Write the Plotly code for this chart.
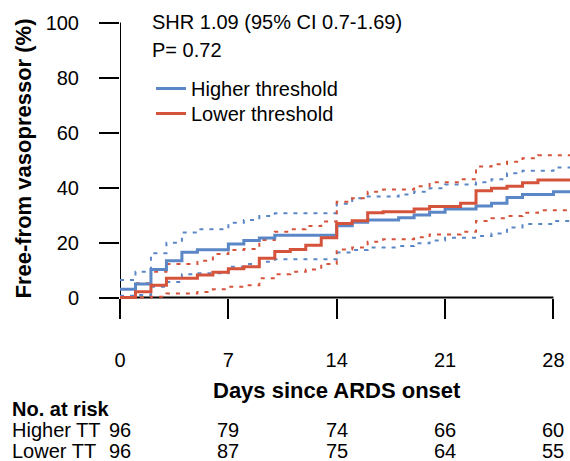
import plotly.graph_objects as go

# ---- data ----
days_hi = [0, 1, 2, 3, 4, 5, 7, 8, 9, 10, 14, 15, 16, 18, 19, 20, 21, 23, 24, 25, 26, 28, 29.1]
hi_est = [3.0, 4.9, 10.2, 13.4, 16.5, 17.4, 19.5, 20.7, 21.6, 22.6, 26.1, 27.4, 28.2, 29.0, 30.0, 31.0, 32.2, 33.3, 34.3, 36.4, 37.5, 38.5, 38.5]
hi_upper = [6.4, 9.4, 16.1, 19.9, 23.6, 24.8, 27.2, 28.2, 29.6, 30.6, 34.1, 36.1, 36.7, 37.5, 38.5, 39.7, 41.1, 41.9, 43.0, 45.2, 46.1, 47.3, 47.3]
hi_lower = [0.6, 0.9, 3.9, 5.6, 8.5, 8.8, 11.2, 12.2, 13.0, 13.9, 16.4, 17.3, 18.2, 18.7, 19.7, 20.7, 21.7, 22.4, 23.3, 25.5, 26.7, 27.8, 27.8]

days_lo = [0, 1, 2, 3, 5, 6, 7, 8, 9, 10, 11, 12, 13, 14, 15, 16, 17, 19, 20, 22, 23, 24, 25, 26, 27, 29.1]
lo_est = [0.0, 2.1, 4.5, 7.0, 8.2, 9.2, 10.5, 11.2, 14.3, 16.7, 17.5, 19.0, 21.7, 26.9, 27.9, 30.8, 31.2, 32.2, 33.1, 34.3, 38.8, 39.7, 40.5, 41.7, 42.7, 42.7]
lo_upper = [0.0, 5.2, 9.4, 12.2, 13.4, 15.8, 17.3, 17.6, 20.9, 23.9, 24.8, 26.0, 27.6, 34.8, 36.1, 38.5, 39.3, 40.5, 41.9, 43.0, 47.6, 48.5, 49.4, 50.6, 51.7, 51.7]
lo_lower = [0.0, 0.0, 0.3, 1.5, 2.0, 3.0, 3.9, 4.5, 7.0, 8.5, 9.4, 10.2, 12.2, 17.5, 18.2, 20.3, 21.2, 21.9, 22.9, 23.9, 27.8, 28.8, 29.6, 30.8, 31.7, 31.7]

tick_days = [0, 7, 14, 21, 28]
y_ticks = [0, 20, 40, 60, 80, 100]
risk_higher = [96, 79, 74, 66, 60]
risk_lower = [96, 87, 75, 64, 55]

BLUE = "#5B87C6"
RED = "#D6533B"
FONT = "Liberation Sans, Arial, sans-serif"

W, H = 570, 461
L, R = 120, 0
T = 17
B = H - 303
PW, PH = W - L - R, H - T - B


def px_x(px):  # reference pixel x -> paper fraction
    return (px - L) / PW


def px_y(py):  # reference pixel y -> paper fraction
    return (H - B - py) / PH


fig = go.Figure()

for d, lo, up, col in [(days_hi, hi_lower, hi_upper, BLUE), (days_lo, lo_lower, lo_upper, RED)]:
    for s in (lo, up):
        fig.add_trace(go.Scatter(x=d, y=s, mode="lines", line_shape="hv",
                                 line=dict(color=col, width=2, dash="4px,6px"),
                                 showlegend=False, hoverinfo="skip"))

fig.add_trace(go.Scatter(x=days_hi, y=hi_est, mode="lines", line_shape="hv",
                         line=dict(color=BLUE, width=3), name="Higher threshold",
                         legend="legend"))
fig.add_trace(go.Scatter(x=days_lo, y=lo_est, mode="lines", line_shape="hv",
                         line=dict(color=RED, width=3), name="Lower threshold",
                         legend="legend2"))

# axis lines (only over the labelled span)
fig.add_shape(type="line", xref="x", yref="y", x0=0, x1=28, y0=0, y1=0,
              line=dict(color="black", width=2), layer="below")
fig.add_shape(type="line", xref="x", yref="y", x0=0, x1=0, y0=0, y1=100,
              line=dict(color="black", width=2), layer="below")

ann = []
ann.append(dict(text="SHR 1.09 (95% CI 0.7-1.69)", x=px_x(150), y=px_y(22), xref="paper", yref="paper",
                xanchor="left", yanchor="middle", showarrow=False, font=dict(size=20)))
ann.append(dict(text="P= 0.72", x=px_x(150), y=px_y(49.5), xref="paper", yref="paper",
                xanchor="left", yanchor="middle", showarrow=False, font=dict(size=20)))
ann.append(dict(text="<b>Free-from vasopressor (%)</b>", x=px_x(22.5), y=px_y(159), xref="paper", yref="paper",
                xanchor="center", yanchor="middle", textangle=-90, showarrow=False, font=dict(size=22)))
ann.append(dict(text="<b>Days since ARDS onset</b>", x=14, y=px_y(390.5), xref="x", yref="paper",
                xanchor="center", yanchor="middle", showarrow=False, font=dict(size=22)))
ann.append(dict(text="<b>No. at risk</b>", x=px_x(10), y=px_y(409), xref="paper", yref="paper",
                xanchor="left", yanchor="middle", showarrow=False, font=dict(size=20)))
for label, vals, py in [("Higher TT", risk_higher, 429.5), ("Lower TT", risk_lower, 451)]:
    ann.append(dict(text=label, x=px_x(10), y=px_y(py), xref="paper", yref="paper",
                    xanchor="left", yanchor="middle", showarrow=False, font=dict(size=20)))
    for d, v in zip(tick_days, vals):
        ann.append(dict(text=str(v), x=d, y=px_y(py), xref="x", yref="paper",
                        xanchor="center", yanchor="middle", showarrow=False, font=dict(size=20)))

leg_common = dict(xanchor="left", yanchor="top", bgcolor="rgba(0,0,0,0)",
                  font=dict(size=20), itemwidth=30)

fig.update_layout(
    width=W, height=H,
    margin=dict(l=L, r=R, t=T, b=B, pad=0),
    paper_bgcolor="white", plot_bgcolor="white",
    font=dict(family=FONT, size=20, color="black"),
    annotations=ann,
    showlegend=True,
    hovermode=False,
    legend=dict(x=px_x(151), y=px_y(69), **leg_common),
    legend2=dict(x=px_x(151), y=px_y(94), **leg_common),
    xaxis=dict(range=[0, PW / 15.48], anchor="free", position=px_y(297.5),
               showgrid=False, zeroline=False, showline=False,
               tickmode="array", tickvals=tick_days, ticktext=[str(t) for t in tick_days],
               ticks="outside", ticklen=20, tickwidth=2, tickcolor="black",
               ticklabelstandoff=24, tickfont=dict(size=20)),
    yaxis=dict(range=[-2, 102], showgrid=False, zeroline=False, showline=False,
               tickmode="array", tickvals=y_ticks, ticktext=[str(t) for t in y_ticks],
               ticks="outside", ticklen=20, tickwidth=2, tickcolor="black",
               ticklabelstandoff=16, tickfont=dict(size=20)),
)

fig.write_html("out.html", config={"displayModeBar": False},
               post_script="document.body.style.margin='0';document.body.style.overflow='hidden';")
